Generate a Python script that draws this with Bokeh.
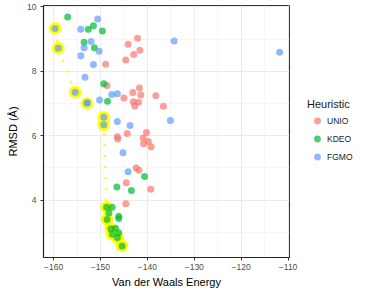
from bokeh.plotting import figure
from bokeh.models import FixedTicker, Legend, LegendItem, Range1d
from bokeh.embed import file_html
from bokeh.resources import INLINE

# ---- data ----
unio_x = [-148.9, -142.1, -144.1, -141.6, -142.9, -144.6, -148.6, -145.0, -143.1, -141.7,
          -141.4, -143.0, -141.9, -142.7, -138.2, -136.6, -144.3, -140.2, -146.4, -146.3,
          -140.9, -139.8, -140.8, -139.2, -142.4, -141.8, -144.5, -139.3, -144.6]
unio_y = [8.22, 9.02, 8.84, 8.65, 8.52, 8.35, 7.56, 7.17, 7.34, 7.48,
          7.26, 7.05, 7.04, 6.92, 7.24, 6.91, 6.07, 6.10, 5.97, 5.90,
          5.93, 5.82, 5.75, 5.66, 5.00, 4.93, 4.54, 4.34, 3.89]

kdeo_x = [-157.0, -152.6, -151.5, -149.6, -153.5, -151.3, -149.3, -148.5, -140.6, -146.5,
          -143.4, -148.7, -147.5, -148.2, -148.6, -146.1, -146.1, -147.8, -146.8, -147.5,
          -146.1, -146.4, -145.4]
kdeo_y = [9.68, 9.30, 9.41, 9.25, 8.90, 8.73, 7.61, 7.07, 4.73, 4.41,
          4.30, 3.78, 3.78, 3.60, 3.40, 3.50, 3.43, 3.11, 3.13, 2.94,
          2.99, 2.84, 2.58]

fgmo_x = [-159.7, -159.0, -150.6, -154.2, -152.0, -153.5, -150.3, -154.2, -151.5, -134.3,
          -111.8, -153.3, -155.4, -152.9, -152.8, -150.2, -147.6, -146.4, -149.3, -149.3,
          -146.4, -143.7, -135.1, -145.2, -144.1]
fgmo_y = [9.33, 8.71, 9.62, 9.30, 8.92, 8.73, 8.62, 8.48, 8.21, 8.94,
          8.59, 7.81, 7.35, 7.01, 7.02, 7.11, 7.28, 7.30, 6.57, 6.34,
          6.44, 6.32, 6.47, 5.47, 4.88]

pareto_x = [-159.7, -159.0, -155.4, -152.9, -149.3, -149.3, -148.7, -148.6, -147.8, -147.5, -146.4, -145.4]
pareto_y = [9.33, 8.71, 7.35, 7.01, 6.57, 6.34, 3.78, 3.40, 3.11, 2.94, 2.84, 2.58]

series_names = ["UNIO", "KDEO", "FGMO"]
series_colors = ["#F8766D", "#00BA38", "#619CFF"]

x_ticks = [-160, -150, -140, -130, -120, -110]
x_tick_labels = ["\u2212160", "\u2212150", "\u2212140", "\u2212130", "\u2212120", "\u2212110"]
x_minor = [-165, -155, -145, -135, -125, -115, -105]
y_ticks = [4, 6, 8, 10]
y_tick_labels = ["4", "6", "8", "10"]
y_minor = [3, 5, 7, 9]

FONT = "Liberation Sans"

p = figure(frame_width=246, frame_height=252,
           min_border_left=43, min_border_right=76, min_border_top=5, min_border_bottom=34,
           x_range=Range1d(-162.15, -109.7), y_range=Range1d(2.22, 10.04),
           output_backend="svg", toolbar_location=None,
           background_fill_color="white", border_fill_color="white")

# grids
for g, t, m in ((p.xgrid, x_ticks, x_minor), (p.ygrid, y_ticks, y_minor)):
    g.ticker = FixedTicker(ticks=t, minor_ticks=m)
    g.grid_line_color = "#EBEBEB"
    g.grid_line_width = 1
    g.minor_grid_line_color = "#F4F4F4"
    g.minor_grid_line_width = 0.8

p.xaxis.ticker = FixedTicker(ticks=x_ticks, minor_ticks=x_minor)
p.yaxis.ticker = FixedTicker(ticks=y_ticks, minor_ticks=y_minor)
p.xaxis.major_label_overrides = {t: l for t, l in zip(x_ticks, x_tick_labels)}
p.yaxis.major_label_overrides = {t: l for t, l in zip(y_ticks, y_tick_labels)}
p.xaxis.axis_label = "Van der Waals Energy"
p.yaxis.axis_label = "RMSD (\u00c5)"

for ax in (p.xaxis, p.yaxis):
    ax.minor_tick_line_color = None
    ax.major_tick_line_color = "#333333"
    ax.major_tick_in = 0
    ax.major_tick_out = 3
    ax.axis_line_color = "#222222"
    ax.axis_line_width = 1.2
    ax.major_label_text_font = FONT
    ax.major_label_text_font_size = "8.5px"
    ax.major_label_text_color = "#4D4D4D"
    ax.major_label_standoff = 2
    ax.axis_label_text_font = FONT
    ax.axis_label_text_font_size = "11px"
    ax.axis_label_text_font_style = "normal"
    ax.axis_label_text_color = "black"
    ax.axis_label_standoff = 3
p.yaxis.major_label_standoff = 3
p.yaxis.axis_label_standoff = 5

p.outline_line_color = "#333333"
p.outline_line_width = 1

# pareto highlight
p.scatter(pareto_x, pareto_y, size=12.5, fill_color="#FFFF00", line_color=None)
p.line(pareto_x, pareto_y, line_color="#FFFF00", line_width=2.3, line_dash="2 9")

renderers = []
for xs, ys, c in ((unio_x, unio_y, series_colors[0]),
                  (kdeo_x, kdeo_y, series_colors[1]),
                  (fgmo_x, fgmo_y, series_colors[2])):
    r = p.scatter(xs, ys, size=7, fill_color=c, line_color=None, fill_alpha=0.7)
    renderers.append(r)

legend = Legend(items=[LegendItem(label=n, renderers=[r]) for n, r in zip(series_names, renderers)],
                location=(18, 92), title="Heuristic",
                title_text_font=FONT, title_text_font_size="11px", title_text_font_style="normal",
                title_text_color="#1A1A1A", title_standoff=2,
                label_text_font=FONT, label_text_font_size="8.5px", label_text_color="#1A1A1A",
                border_line_color=None, background_fill_alpha=0,
                padding=0, margin=0, spacing=1,
                glyph_width=20, glyph_height=17, label_height=17, label_standoff=0)
p.add_layout(legend, "right")

open("out.html", "w").write(file_html(p, INLINE))
